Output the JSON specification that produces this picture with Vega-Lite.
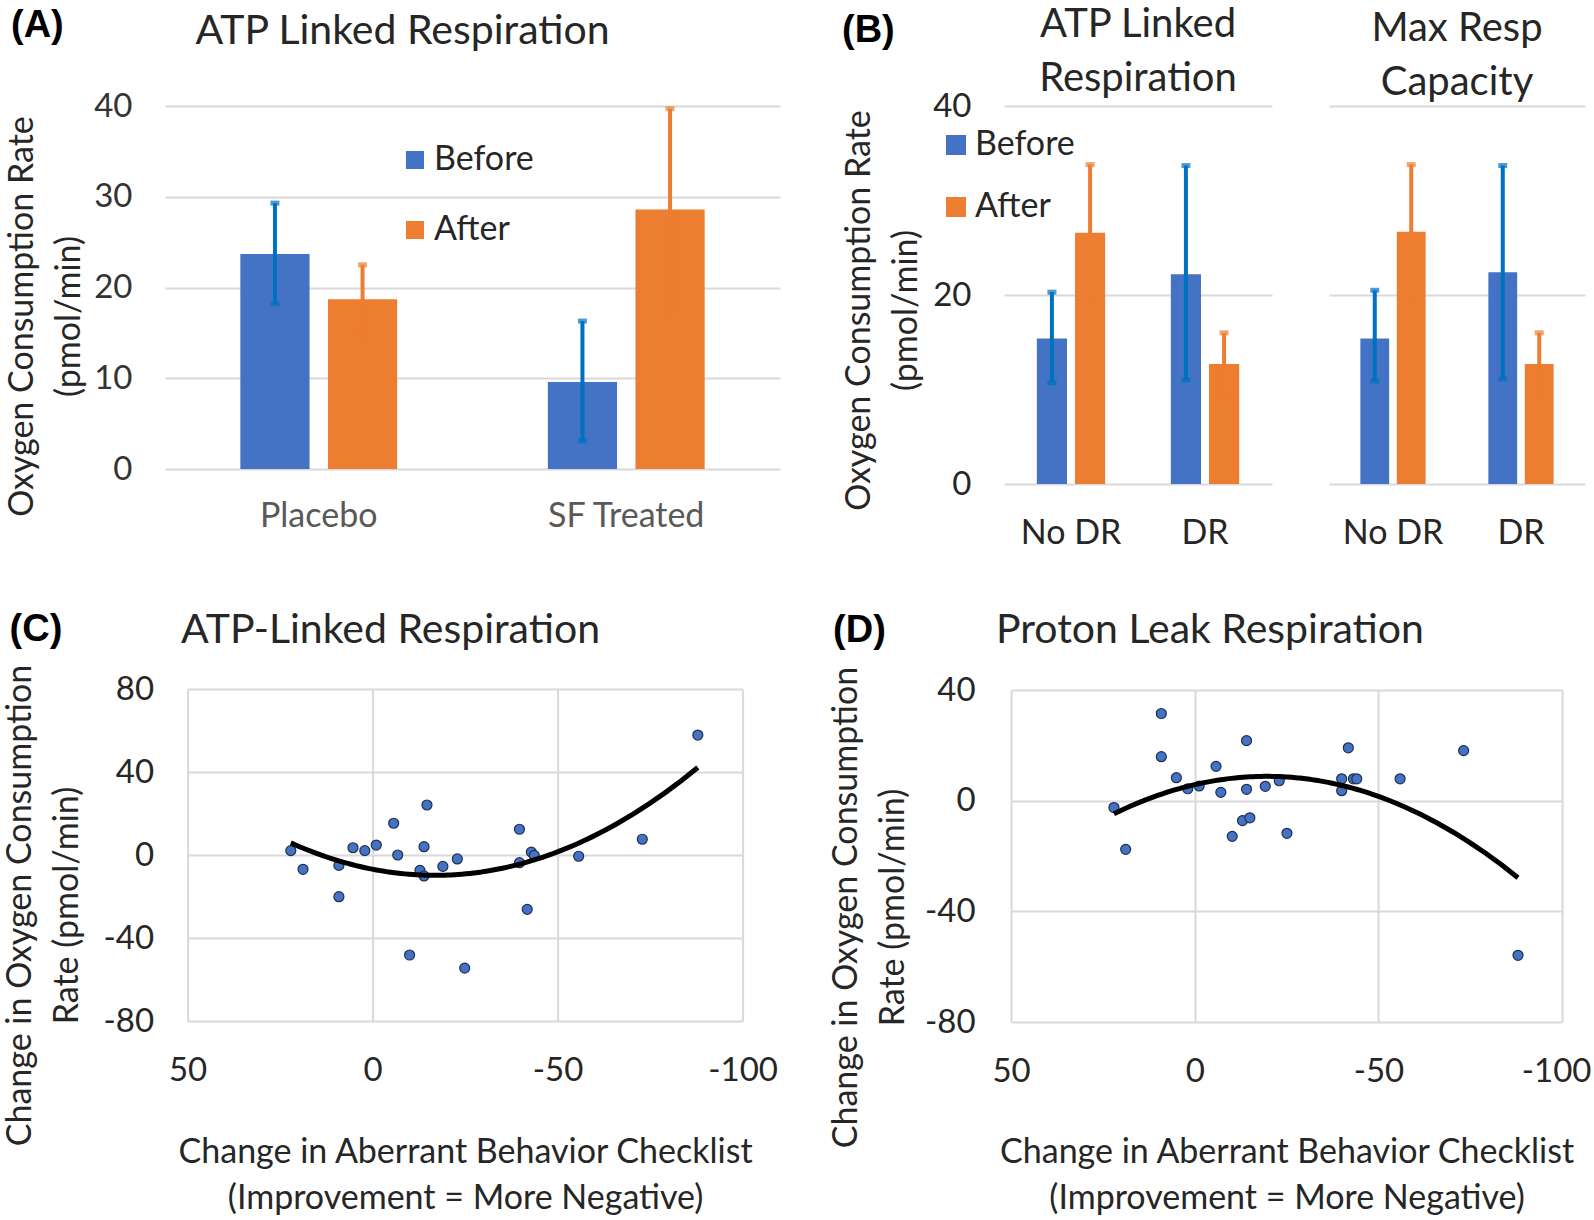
{
"$schema": "https://vega.github.io/schema/vega-lite/v6.json",
"background": "white",
"padding": {"left": 3, "top": -7, "right": 0, "bottom": 0},
"config": {
 "view": {"stroke": null},
 "font": "Lato",
 "axis": {"labelFont": "Lato", "titleFont": "Lato", "labelColor": "#262626", "titleColor": "#262626", "titleFontWeight": "normal", "gridColor": "#D9D9D9", "gridWidth": 2, "domain": false, "ticks": false, "tickSize": 0},
 "legend": {"labelFont": "Lato"},
 "title": {"font": "Lato", "fontWeight": "normal", "color": "#262626"}
},
"datasets": {
 "a": [
  {"group": "Placebo", "series": "Before", "value": 23.7, "lo": 18.2, "hi": 29.3},
  {"group": "Placebo", "series": "After", "value": 18.7, "lo": 14.9, "hi": 22.5},
  {"group": "SF Treated", "series": "Before", "value": 9.6, "lo": 3.1, "hi": 16.3},
  {"group": "SF Treated", "series": "After", "value": 28.6, "lo": 17.5, "hi": 39.7}
 ],
 "b": [
  {"panel": "ATP", "group": "No DR", "series": "Before", "value": 15.4, "lo": 10.7, "hi": 20.3},
  {"panel": "ATP", "group": "No DR", "series": "After", "value": 26.6, "lo": 19.4, "hi": 33.8},
  {"panel": "ATP", "group": "DR", "series": "Before", "value": 22.2, "lo": 11.0, "hi": 33.7},
  {"panel": "ATP", "group": "DR", "series": "After", "value": 12.7, "lo": 9.4, "hi": 16.0},
  {"panel": "Max", "group": "No DR", "series": "Before", "value": 15.4, "lo": 10.9, "hi": 20.5},
  {"panel": "Max", "group": "No DR", "series": "After", "value": 26.7, "lo": 19.6, "hi": 33.8},
  {"panel": "Max", "group": "DR", "series": "Before", "value": 22.4, "lo": 11.1, "hi": 33.7},
  {"panel": "Max", "group": "DR", "series": "After", "value": 12.7, "lo": 9.4, "hi": 16.0}
 ],
 "c": [
  {"x": 22.1, "y": 2.1}, {"x": 18.8, "y": -6.9}, {"x": 9.1, "y": -5.0}, {"x": 9.1, "y": -20.1},
  {"x": 5.3, "y": 3.5}, {"x": 2.1, "y": 2.1}, {"x": -1.0, "y": 4.8}, {"x": -5.7, "y": 15.3},
  {"x": -6.8, "y": 0.0}, {"x": -14.7, "y": 24.1}, {"x": -13.9, "y": 4.0}, {"x": -12.8, "y": -7.4},
  {"x": -13.9, "y": -10.1}, {"x": -10.0, "y": -48.2}, {"x": -19.0, "y": -5.5}, {"x": -22.9, "y": -1.9},
  {"x": -24.9, "y": -54.5}, {"x": -39.7, "y": 12.4}, {"x": -39.7, "y": -3.7}, {"x": -42.9, "y": 1.4},
  {"x": -43.7, "y": -0.2}, {"x": -41.8, "y": -26.2}, {"x": -55.7, "y": -0.6}, {"x": -72.9, "y": 7.6},
  {"x": -87.9, "y": 57.8}
 ],
 "d": [
  {"x": 9.1, "y": 31.5}, {"x": 9.1, "y": 15.9}, {"x": 5.0, "y": 8.3}, {"x": 22.0, "y": -2.5},
  {"x": 18.8, "y": -17.6}, {"x": 1.9, "y": 4.3}, {"x": -1.2, "y": 5.3}, {"x": -5.8, "y": 12.4},
  {"x": -7.1, "y": 3.0}, {"x": -14.1, "y": 21.7}, {"x": -14.1, "y": 4.1}, {"x": -13.0, "y": -7.2},
  {"x": -15.0, "y": -6.2}, {"x": -10.2, "y": -12.9}, {"x": -19.2, "y": 5.2}, {"x": -23.0, "y": 7.2},
  {"x": -25.1, "y": -11.8}, {"x": -40.0, "y": 7.9}, {"x": -40.0, "y": 3.6}, {"x": -41.8, "y": 19.1},
  {"x": -43.2, "y": 7.9}, {"x": -44.1, "y": 7.9}, {"x": -55.9, "y": 7.9}, {"x": -73.2, "y": 18.1},
  {"x": -88.0, "y": -55.9}
 ]
},
"bounds": "full",
"spacing": 29,
"resolve": {"scale": {"color": "independent", "x": "independent", "y": "independent", "xOffset": "independent"}, "legend": {"color": "independent"}},
"hconcat": [
 {
  "center": true,
  "spacing": 77,
  "resolve": {"scale": {"color": "independent", "x": "independent", "y": "independent", "xOffset": "independent"}, "legend": {"color": "independent"}},
  "vconcat": [
   {
    "title": {"text": "(A)", "anchor": "start", "frame": "bounds", "font": "Liberation Sans", "fontSize": 38, "fontWeight": "bold", "color": "black", "offset": 0, "dy": 52, "dx": 6},
    "resolve": {"scale": {"color": "independent", "x": "independent", "y": "independent", "xOffset": "independent"}, "legend": {"color": "independent"}},
    "hconcat": [
     {
      "width": 615, "height": 363,
      "data": {"name": "a"},
      "title": {"text": ["", "ATP Linked Respiration"], "fontSize": 41, "lineHeight": 18, "anchor": "middle", "frame": "bounds", "offset": 37},
      "resolve": {"scale": {"color": "independent"}},
      "encoding": {
       "x": {"field": "group", "type": "nominal", "sort": null, "scale": {"paddingInner": 0, "paddingOuter": 0}, "axis": {"title": " ", "titleX": 635, "titleY": 47, "titleBaseline": "middle", "titleAlign": "center", "titleFontSize": 34, "labelAngle": 0, "labelFontSize": 34, "labelColor": "#595959", "labelPadding": 47, "labelBaseline": "middle", "grid": false}},
       "xOffset": {"field": "series", "type": "nominal", "sort": null, "scale": {"domain": ["Before", "After"], "paddingInner": 0.21, "paddingOuter": 0.86}}
      },
      "layer": [
       {"mark": {"type": "bar"},
        "encoding": {
         "y": {"field": "value", "type": "quantitative", "scale": {"domain": [0, 40], "nice": false}, "axis": {"values": [0, 10, 20, 30, 40], "grid": true, "labelFontSize": 33, "labelColor": "#333333", "labelPadding": 33, "title": ["Oxygen Consumption Rate", "(pmol/min)"], "titleFontSize": 34, "titleLineHeight": 47, "titleX": -143, "titleY": 210, "titleBaseline": "middle", "titleAngle": 270}},
         "color": {"field": "series", "type": "nominal", "scale": {"domain": ["Before", "After"], "range": ["#4472C4", "#ED7D31"]}, "legend": {"orient": "none", "legendX": 233, "legendY": 37, "title": null, "symbolType": "square", "symbolSize": 324, "symbolStrokeWidth": 0, "symbolOpacity": 1, "labelFontSize": 34, "labelColor": "#262626", "rowPadding": 36, "labelOffset": 2, "padding": 0}}
        }},
       {"mark": {"type": "rule", "strokeWidth": 4},
        "encoding": {
         "y": {"field": "lo", "type": "quantitative"}, "y2": {"field": "hi"},
         "color": {"field": "series", "type": "nominal", "scale": {"domain": ["Before", "After"], "range": ["#0070C0", "#ED7D31"]}, "legend": null}
        }},
       {"mark": {"type": "tick", "thickness": 5, "size": 9},
        "encoding": {
         "y": {"field": "hi", "type": "quantitative"},
         "color": {"field": "series", "type": "nominal", "scale": {"domain": ["Before", "After"], "range": ["#0070C0", "#ED7D31"]}, "legend": null}
        }},
       {"mark": {"type": "tick", "thickness": 5, "size": 9},
        "encoding": {
         "y": {"field": "lo", "type": "quantitative"},
         "color": {"field": "series", "type": "nominal", "scale": {"domain": ["Before", "After"], "range": ["#0070C0", "#ED7D31"]}, "legend": null}
        }}
      ]
     }
    ]
   },
   {
    "title": {"text": "(C)", "anchor": "start", "frame": "bounds", "font": "Liberation Sans", "fontSize": 38, "fontWeight": "bold", "color": "black", "offset": 0, "dy": 39, "dx": 6},
    "resolve": {"scale": {"x": "independent", "y": "independent"}},
    "hconcat": [
     {
      "width": 555, "height": 332,
      "data": {"name": "c"},
      "title": {"text": "ATP-Linked Respiration", "fontSize": 41, "anchor": "middle", "frame": "bounds", "offset": 12},
      "encoding": {
       "x": {"field": "x", "type": "quantitative", "scale": {"domain": [-100, 50], "reverse": true, "nice": false, "zero": false}, "axis": {"values": [50, 0, -50, -100], "labelExpr": "'' + datum.value", "labelFlush": false, "labelOverlap": false, "grid": true, "labelFontSize": 33, "labelPadding": 49, "labelBaseline": "middle", "title": ["Change in Aberrant Behavior Checklist", "(Improvement = More Negative)"], "titleFontSize": 34, "titleLineHeight": 46, "titleY": 131, "titleBaseline": "middle"}},
       "y": {"field": "y", "type": "quantitative", "scale": {"domain": [-80, 80], "nice": false}, "axis": {"values": [-80, -40, 0, 40, 80], "labelExpr": "'' + datum.value", "grid": true, "labelFontSize": 33, "labelPadding": 34, "title": ["Change in Oxygen Consumption", "Rate (pmol/min)"], "titleFontSize": 34, "titleLineHeight": 47, "titleX": -167, "titleY": 216, "titleBaseline": "middle", "titleAngle": 270}}
      },
      "layer": [
       {"mark": {"type": "circle", "size": 100, "fill": "#4472C4", "stroke": "#1F2F4F", "strokeWidth": 1.2, "opacity": 1}},
       {"transform": [{"regression": "y", "on": "x", "method": "poly", "order": 2}],
        "mark": {"type": "line", "color": "black", "strokeWidth": 5}}
      ]
     }
    ]
   }
  ]
 },
 {
  "center": true,
  "spacing": 60,
  "resolve": {"scale": {"color": "independent", "x": "independent", "y": "independent", "xOffset": "independent"}, "legend": {"color": "independent"}},
  "vconcat": [
   {
    "title": {"text": "(B)", "anchor": "start", "frame": "bounds", "font": "Liberation Sans", "fontSize": 38, "fontWeight": "bold", "color": "black", "offset": 0, "dy": 45},
    "spacing": 57,
    "resolve": {"scale": {"color": "independent", "x": "independent", "y": "independent", "xOffset": "independent"}, "legend": {"color": "independent"}},
    "hconcat": [
     {
      "width": 268, "height": 378,
      "data": {"name": "b"},
      "transform": [{"filter": "datum.panel === 'ATP'"}],
      "title": {"text": ["ATP Linked", "Respiration"], "fontSize": 40, "lineHeight": 54, "anchor": "middle", "frame": "group", "offset": -9},
      "resolve": {"scale": {"color": "independent"}},
      "encoding": {
       "x": {"field": "group", "type": "nominal", "sort": null, "scale": {"paddingInner": 0, "paddingOuter": 0}, "axis": {"title": null, "labelAngle": 0, "labelFontSize": 34, "labelPadding": 49, "labelBaseline": "middle", "grid": false}},
       "xOffset": {"field": "series", "type": "nominal", "sort": null, "scale": {"domain": ["Before", "After"], "paddingInner": 0.21, "paddingOuter": 0.86}}
      },
      "layer": [
       {"mark": {"type": "bar"},
        "encoding": {
         "y": {"field": "value", "type": "quantitative", "scale": {"domain": [0, 40], "nice": false}, "axis": {"values": [0, 20, 40], "grid": true, "labelFontSize": 33, "labelPadding": 33, "title": ["Oxygen Consumption Rate", "(pmol/min)"], "titleFontSize": 34, "titleLineHeight": 47, "titleX": -145, "titleY": 204, "titleBaseline": "middle", "titleAngle": 270}},
         "color": {"field": "series", "type": "nominal", "scale": {"domain": ["Before", "After"], "range": ["#4472C4", "#ED7D31"]}, "legend": {"orient": "none", "legendX": -65, "legendY": 22, "title": null, "symbolType": "square", "symbolSize": 400, "symbolStrokeWidth": 0, "symbolOpacity": 1, "labelFontSize": 34, "labelColor": "#262626", "rowPadding": 28, "labelOffset": 2, "padding": 0}}
        }},
       {"mark": {"type": "rule", "strokeWidth": 4},
        "encoding": {
         "y": {"field": "lo", "type": "quantitative"}, "y2": {"field": "hi"},
         "color": {"field": "series", "type": "nominal", "scale": {"domain": ["Before", "After"], "range": ["#0070C0", "#ED7D31"]}, "legend": null}
        }},
       {"mark": {"type": "tick", "thickness": 5, "size": 9},
        "encoding": {
         "y": {"field": "hi", "type": "quantitative"},
         "color": {"field": "series", "type": "nominal", "scale": {"domain": ["Before", "After"], "range": ["#0070C0", "#ED7D31"]}, "legend": null}
        }},
       {"mark": {"type": "tick", "thickness": 5, "size": 9},
        "encoding": {
         "y": {"field": "lo", "type": "quantitative"},
         "color": {"field": "series", "type": "nominal", "scale": {"domain": ["Before", "After"], "range": ["#0070C0", "#ED7D31"]}, "legend": null}
        }}
      ]
     },
     {
      "width": 256, "height": 378,
      "data": {"name": "b"},
      "transform": [{"filter": "datum.panel === 'Max'"}],
      "title": {"text": ["Max Resp", "Capacity"], "fontSize": 40, "lineHeight": 54, "anchor": "middle", "frame": "group", "offset": 3},
      "resolve": {"scale": {"color": "independent"}},
      "encoding": {
       "x": {"field": "group", "type": "nominal", "sort": null, "scale": {"paddingInner": 0, "paddingOuter": 0}, "axis": {"title": " ", "titleX": 269, "titleY": 49, "titleBaseline": "middle", "titleAlign": "center", "titleFontSize": 34, "labelAngle": 0, "labelFontSize": 34, "labelPadding": 49, "labelBaseline": "middle", "grid": false}},
       "xOffset": {"field": "series", "type": "nominal", "sort": null, "scale": {"domain": ["Before", "After"], "paddingInner": 0.21, "paddingOuter": 0.86}}
      },
      "layer": [
       {"mark": {"type": "bar"},
        "encoding": {
         "y": {"field": "value", "type": "quantitative", "scale": {"domain": [0, 40], "nice": false}, "axis": {"values": [0, 20, 40], "grid": true, "labels": false, "title": null}},
         "color": {"field": "series", "type": "nominal", "scale": {"domain": ["Before", "After"], "range": ["#4472C4", "#ED7D31"]}, "legend": null}
        }},
       {"mark": {"type": "rule", "strokeWidth": 4},
        "encoding": {
         "y": {"field": "lo", "type": "quantitative"}, "y2": {"field": "hi"},
         "color": {"field": "series", "type": "nominal", "scale": {"domain": ["Before", "After"], "range": ["#0070C0", "#ED7D31"]}, "legend": null}
        }},
       {"mark": {"type": "tick", "thickness": 5, "size": 9},
        "encoding": {
         "y": {"field": "hi", "type": "quantitative"},
         "color": {"field": "series", "type": "nominal", "scale": {"domain": ["Before", "After"], "range": ["#0070C0", "#ED7D31"]}, "legend": null}
        }},
       {"mark": {"type": "tick", "thickness": 5, "size": 9},
        "encoding": {
         "y": {"field": "lo", "type": "quantitative"},
         "color": {"field": "series", "type": "nominal", "scale": {"domain": ["Before", "After"], "range": ["#0070C0", "#ED7D31"]}, "legend": null}
        }}
      ]
     }
    ]
   },
   {
    "title": {"text": "(D)", "anchor": "start", "frame": "bounds", "font": "Liberation Sans", "fontSize": 38, "fontWeight": "bold", "color": "black", "offset": 0, "dy": 40, "dx": 4},
    "resolve": {"scale": {"x": "independent", "y": "independent"}},
    "hconcat": [
     {
      "width": 551, "height": 332,
      "data": {"name": "d"},
      "title": {"text": "Proton Leak Respiration", "fontSize": 41, "anchor": "middle", "frame": "bounds", "offset": 14},
      "encoding": {
       "x": {"field": "x", "type": "quantitative", "scale": {"domain": [-100, 50], "reverse": true, "nice": false, "zero": false}, "axis": {"values": [50, 0, -50, -100], "labelExpr": "'' + datum.value", "labelFlush": false, "labelOverlap": false, "labelOffset": {"condition": {"test": "datum.value === -100", "value": -6}, "value": 0}, "grid": true, "labelFontSize": 33, "labelPadding": 49, "labelBaseline": "middle", "title": ["Change in Aberrant Behavior Checklist", "(Improvement = More Negative)"], "titleFontSize": 34, "titleLineHeight": 46, "titleY": 130, "titleBaseline": "middle"}},
       "y": {"field": "y", "type": "quantitative", "scale": {"domain": [-80, 40], "nice": false}, "axis": {"values": [-80, -40, 0, 40], "labelExpr": "'' + datum.value", "grid": true, "labelFontSize": 33, "labelPadding": 36, "title": ["Change in Oxygen Consumption", "Rate (pmol/min)"], "titleFontSize": 34, "titleLineHeight": 47, "titleX": -165, "titleY": 217, "titleBaseline": "middle", "titleAngle": 270}}
      },
      "layer": [
       {"mark": {"type": "circle", "size": 100, "fill": "#4472C4", "stroke": "#1F2F4F", "strokeWidth": 1.2, "opacity": 1}},
       {"transform": [{"regression": "y", "on": "x", "method": "poly", "order": 2}],
        "mark": {"type": "line", "color": "black", "strokeWidth": 5}}
      ]
     }
    ]
   }
  ]
 }
]
}
